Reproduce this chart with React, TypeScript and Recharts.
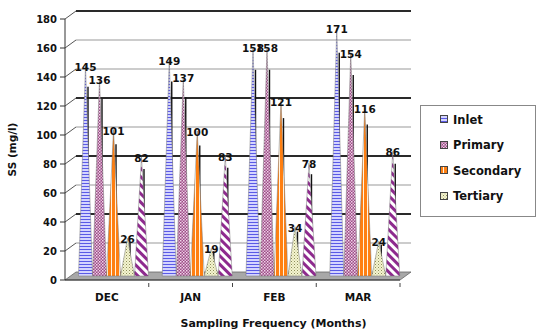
import React from 'react';
import { BarChart, Bar, XAxis, YAxis, CartesianGrid, LabelList } from 'recharts';

const months = ['DEC', 'JAN', 'FEB', 'MAR'];
const inlet = [145, 149, 158, 171];
const primary = [136, 137, 158, 154];
const secondary = [101, 100, 121, 116];
const tertiary = [26, 19, 34, 24];
const final = [82, 83, 78, 86];
const yTicks = [0, 20, 40, 60, 80, 100, 120, 140, 160, 180];
const legendNames = ['Inlet', 'Primary', 'Secondary', 'Tertiary'];
const legendFills = ['url(#pInlet)', 'url(#pPrimary)', 'url(#pSecondary)', 'url(#pTertiary)'];

const data = months.map((m, i) => ({
  month: m,
  Inlet: inlet[i],
  Primary: primary[i],
  Secondary: secondary[i],
  Tertiary: tertiary[i],
  Final: final[i],
}));

const FONT = '"DejaVu Sans", Verdana, sans-serif';
const DX = 11;
const DY = -8;
const W = 539;
const H = 335;
const MARGIN = { top: 19, right: 139, left: 0, bottom: 0 };
const X_AXIS_H = 55;
const PLOT_BOTTOM = H - MARGIN.bottom - X_AXIS_H;
const PLOT_H = PLOT_BOTTOM - MARGIN.top;
const BAND = (W - MARGIN.right - 65) / months.length;
const DARK_VALUES = [180, 120, 80, 40];

const Cone = (props: any) => {
  const { x, y, width, height, fill } = props;
  if (!height || height <= 0) return null;
  const sx = x + DX / 2;
  const sy = y + DY / 2;
  const cx = sx + width / 2;
  const base = sy + height;
  return (
    <g>
      <line x1={cx + 2.5} y1={base} x2={cx + 2.5} y2={sy + height * 0.1} stroke="#111" strokeWidth={1.4} />
      <polygon
        points={`${sx},${base} ${sx + width},${base} ${cx},${sy}`}
        fill={fill}
        stroke="#777"
        strokeWidth={0.5}
      />
    </g>
  );
};

const renderLabel = (props: any) => {
  const { x, y, width, value } = props;
  return (
    <text
      x={x + width / 2 + DX / 2}
      y={y + 1}
      textAnchor="middle"
      fontFamily={FONT}
      fontWeight="bold"
      fontSize={10.5}
      fill="#111"
    >
      {value}
    </text>
  );
};

const gridLine = (p: any) => {
  const { x1, y1, x2 } = p;
  const val = Math.round(((PLOT_BOTTOM - y1) / PLOT_H) * 180);
  if (val === 0) {
    return (
      <g key={p.key}>
        <polygon
          points={`${x1},${y1} ${x2},${y1} ${x2 + DX},${y1 + DY} ${x1 + DX},${y1 + DY}`}
          fill="#a8a8a8"
          stroke="#666"
          strokeWidth={0.8}
        />
      </g>
    );
  }
  const dark = DARK_VALUES.includes(val);
  return (
    <g key={p.key}>
      <line x1={x1} y1={y1} x2={x1 + DX} y2={y1 + DY} stroke="#555" strokeWidth={1} />
      <line
        x1={x1 + DX}
        y1={y1 + DY}
        x2={x2 + DX}
        y2={y1 + DY}
        stroke={dark ? '#2a2a2a' : '#9a9a9a'}
        strokeWidth={dark ? 1.8 : 1.2}
      />
    </g>
  );
};

const XTick = (props: any) => {
  const { x, y, payload } = props;
  return (
    <g>
      <text x={x} y={y + 21} textAnchor="middle" fontFamily={FONT} fontWeight="bold" fontSize={10.5} fill="#111">
        {payload.value}
      </text>
      <line x1={x + BAND / 2} y1={y + 3} x2={x + BAND / 2} y2={y + 7} stroke="#444" strokeWidth={1} />
    </g>
  );
};

const LegendBox = () => (
  <div
    style={{
      position: 'absolute',
      left: 420,
      top: 105,
      width: 116,
      height: 112,
      border: '1px solid #888',
      boxSizing: 'border-box',
      background: '#fff',
      paddingTop: 1,
      paddingLeft: 19,
    }}
  >
    {legendNames.map((n, i) => (
      <div key={n} style={{ display: 'flex', alignItems: 'center', height: 25.5 }}>
        <svg width={9} height={9} style={{ marginRight: 4 }}>
          <rect x={0.5} y={0.5} width={7} height={7} fill={legendFills[i]} stroke="#444" strokeWidth={1} />
        </svg>
        <span style={{ fontFamily: FONT, fontWeight: 'bold', fontSize: 11.5, color: '#111' }}>{n}</span>
      </div>
    ))}
  </div>
);

export default function App() {
  return (
    <div style={{ position: 'relative', width: W, height: H, background: '#fff' }}>
      <style>{'body{margin:0;}'}</style>
      <svg width={0} height={0} style={{ position: 'absolute' }}>
        <defs>
          <pattern id="pInlet" width="4" height="3" patternUnits="userSpaceOnUse">
            <rect width="4" height="3" fill="#d4d4ff" />
            <rect y="0" width="4" height="1" fill="#5a5ae6" />
          </pattern>
          <pattern id="pPrimary" width="3" height="3" patternUnits="userSpaceOnUse">
            <rect width="3" height="3" fill="#9c4d86" />
            <rect x="0" y="0" width="1.5" height="1.5" fill="#f2d6ec" />
            <rect x="1.5" y="1.5" width="1.5" height="1.5" fill="#e0b8d6" />
          </pattern>
          <pattern id="pSecondary" width="4" height="4" patternUnits="userSpaceOnUse">
            <rect width="4" height="4" fill="#ff7f11" />
            <rect x="3" width="1" height="4" fill="#fff3e0" />
          </pattern>
          <pattern id="pTertiary" width="3" height="3" patternUnits="userSpaceOnUse">
            <rect width="3" height="3" fill="#f4f4cf" />
            <rect x="0" y="0" width="1" height="1" fill="#8d8d5a" />
            <rect x="1.5" y="1.5" width="1" height="1" fill="#b5b58a" />
          </pattern>
          <pattern id="pFinal" width="6" height="6" patternUnits="userSpaceOnUse" patternTransform="rotate(45)">
            <rect width="6" height="6" fill="#ffffff" />
            <rect width="6" height="3" fill="#8e2a8e" />
          </pattern>
        </defs>
      </svg>
      <BarChart width={W} height={H} data={data} margin={MARGIN} barCategoryGap={8} barGap={0}>
        <CartesianGrid vertical={false} horizontal={gridLine} />
        <XAxis
          dataKey="month"
          height={X_AXIS_H}
          tickLine={false}
          tickSize={0}
          tickMargin={0}
          axisLine={{ stroke: '#333', strokeWidth: 1 }}
          tick={<XTick />}
          interval={0}
          label={{
            content: (p: any) => {
              const vb = p.viewBox;
              return (
                <text
                  x={vb.x + vb.width / 2 + 41}
                  y={vb.y + 47}
                  textAnchor="middle"
                  fontFamily={FONT}
                  fontWeight="bold"
                  fontSize={11}
                  fill="#111"
                >
                  Sampling Frequency (Months)
                </text>
              );
            },
          }}
        />
        <YAxis
          width={65}
          domain={[0, 180]}
          ticks={yTicks}
          interval={0}
          tickSize={5}
          tickMargin={3}
          axisLine={{ stroke: '#333', strokeWidth: 1 }}
          tickLine={{ stroke: '#333' }}
          tick={{ fontFamily: FONT, fontWeight: 'bold', fontSize: 10, fill: '#111' }}
          label={{
            content: (p: any) => {
              const vb = p.viewBox;
              const cx = vb.x + 12;
              const cy = vb.y + vb.height / 2;
              return (
                <text
                  x={cx}
                  y={cy}
                  transform={`rotate(-90 ${cx} ${cy})`}
                  textAnchor="middle"
                  dominantBaseline="central"
                  fontFamily={FONT}
                  fontWeight="bold"
                  fontSize={10.5}
                  fill="#111"
                >
                  SS (mg/l)
                </text>
              );
            },
          }}
        />
        <Bar dataKey="Inlet" fill="url(#pInlet)" shape={<Cone />} isAnimationActive={false}>
          <LabelList dataKey="Inlet" content={renderLabel} />
        </Bar>
        <Bar dataKey="Primary" fill="url(#pPrimary)" shape={<Cone />} isAnimationActive={false}>
          <LabelList dataKey="Primary" content={renderLabel} />
        </Bar>
        <Bar dataKey="Secondary" fill="url(#pSecondary)" shape={<Cone />} isAnimationActive={false}>
          <LabelList dataKey="Secondary" content={renderLabel} />
        </Bar>
        <Bar dataKey="Tertiary" fill="url(#pTertiary)" shape={<Cone />} isAnimationActive={false}>
          <LabelList dataKey="Tertiary" content={renderLabel} />
        </Bar>
        <Bar dataKey="Final" fill="url(#pFinal)" shape={<Cone />} isAnimationActive={false}>
          <LabelList dataKey="Final" content={renderLabel} />
        </Bar>
      </BarChart>
      <LegendBox />
    </div>
  );
}
